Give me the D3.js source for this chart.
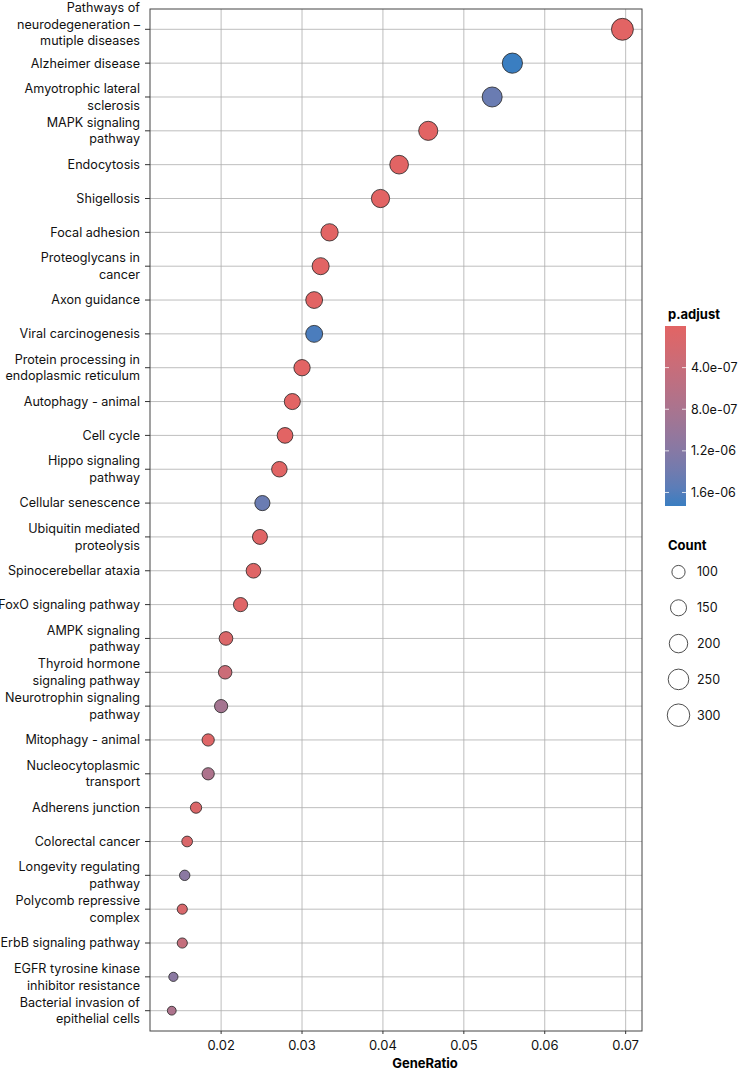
<!DOCTYPE html>
<html>
<head>
<meta charset="utf-8">
<script src="https://cdn.jsdelivr.net/npm/d3@7.9.0/dist/d3.min.js"></script>
<style>
  body { margin: 0; background: #fff; }
  svg { display: block; font-family: Inter, "Liberation Sans", sans-serif; }
</style>
</head>
<body>
<div id="chart"></div>
<script>
// KEGG pathways, top to bottom
const pathways = [
  'Pathways of\nneurodegeneration –\nmutiple diseases',
  'Alzheimer disease',
  'Amyotrophic lateral\nsclerosis',
  'MAPK signaling\npathway',
  'Endocytosis',
  'Shigellosis',
  'Focal adhesion',
  'Proteoglycans in\ncancer',
  'Axon guidance',
  'Viral carcinogenesis',
  'Protein processing in\nendoplasmic reticulum',
  'Autophagy - animal',
  'Cell cycle',
  'Hippo signaling\npathway',
  'Cellular senescence',
  'Ubiquitin mediated\nproteolysis',
  'Spinocerebellar ataxia',
  'FoxO signaling pathway',
  'AMPK signaling\npathway',
  'Thyroid hormone\nsignaling pathway',
  'Neurotrophin signaling\npathway',
  'Mitophagy - animal',
  'Nucleocytoplasmic\ntransport',
  'Adherens junction',
  'Colorectal cancer',
  'Longevity regulating\npathway',
  'Polycomb repressive\ncomplex',
  'ErbB signaling pathway',
  'EGFR tyrosine kinase\ninhibitor resistance',
  'Bacterial invasion of\nepithelial cells',
];

const geneRatio = [
  0.0696, 0.0560, 0.0535, 0.0456, 0.0420, 0.0397, 0.0334, 0.0323, 0.0315, 0.0315,
  0.0300, 0.0288, 0.0279, 0.0272, 0.0251, 0.0248, 0.0240, 0.0224, 0.0206, 0.0205,
  0.0200, 0.0184, 0.0184, 0.0169, 0.0158, 0.0155, 0.0152, 0.0152, 0.0141, 0.0139,
];

const counts = [
  284, 241, 236, 215, 205, 195, 175, 170, 165, 168,
  155, 150, 144, 140, 133, 130, 125, 116, 108, 105,
  100, 86, 86, 72, 65, 61, 58, 58, 47, 43,
];

const pAdjust = [
  3e-14, 1.73e-6, 1.45e-6, 2e-10, 5e-10, 1e-9, 8e-10, 1e-9, 2e-9, 1.65e-6,
  5e-9, 3e-9, 4e-9, 2e-8, 1.45e-6, 3e-8, 4e-8, 5e-8, 1e-7, 3.5e-7,
  8.5e-7, 6e-8, 7.5e-7, 1e-7, 1.2e-7, 1.15e-6, 1.5e-7, 4.5e-7, 1.15e-6, 7.5e-7,
];

const xTicks = [0.02, 0.03, 0.04, 0.05, 0.06, 0.07];
const pTicks = [4e-7, 8e-7, 1.2e-6, 1.6e-6];
const countBreaks = [100, 150, 200, 250, 300];

const data = pathways.map((name, i) => ({
  name, ratio: geneRatio[i], count: counts[i], p: pAdjust[i],
}));

const width = 750, height = 1072;
const panel = { left: 150, right: 642, top: 9, bottom: 1031 };

const svg = d3.select('#chart').append('svg')
  .attr('width', width).attr('height', height);

const x = d3.scaleLinear().domain([0.01121, 0.07202]).range([panel.left, panel.right]);
const y = d3.scalePoint().domain(pathways).range([panel.top, panel.bottom]).padding(0.6);
const r = d3.scaleSqrt().domain([100, 300]).range([7, 11.65]);

const [pMin, pMax] = d3.extent(pAdjust);
const color = d3.scaleLinear().domain([pMin, pMax])
  .range(['#e26464', '#3a7ec1']).interpolate(d3.interpolateLab);

// gridlines
const grid = svg.append('g').attr('stroke', '#adadad').attr('stroke-width', 0.8);
grid.selectAll('.gx').data(xTicks).join('line')
  .attr('x1', d => x(d)).attr('x2', d => x(d))
  .attr('y1', panel.top).attr('y2', panel.bottom);
grid.selectAll('.gy').data(pathways).join('line')
  .attr('x1', panel.left).attr('x2', panel.right)
  .attr('y1', d => y(d)).attr('y2', d => y(d));

// dots, largest first
svg.append('g').selectAll('circle')
  .data(d3.sort(data, d => -d.count))
  .join('circle')
  .attr('cx', d => x(d.ratio))
  .attr('cy', d => y(d.name))
  .attr('r', d => r(d.count) - 0.4)
  .attr('fill', d => color(d.p))
  .attr('stroke', '#222')
  .attr('stroke-width', 0.8);

// panel border
svg.append('rect')
  .attr('x', panel.left).attr('y', panel.top)
  .attr('width', panel.right - panel.left).attr('height', panel.bottom - panel.top)
  .attr('fill', 'none').attr('stroke', '#444').attr('stroke-width', 1);

// y axis labels
const yAxis = svg.append('g');
pathways.forEach(name => {
  const lines = name.split('\n');
  const lh = 16.5;
  const shift = lines.length > 2 ? -5 : 0;
  const y0 = y(name) - (lines.length - 1) / 2 * lh + shift;
  yAxis.append('line')
    .attr('x1', panel.left - 5).attr('x2', panel.left)
    .attr('y1', y(name)).attr('y2', y(name))
    .attr('stroke', '#333').attr('stroke-width', 1);
  const t = yAxis.append('text')
    .attr('text-anchor', 'end')
    .attr('font-size', 12.6)
    .attr('fill', '#111');
  lines.forEach((ln, j) => {
    t.append('tspan').attr('x', panel.left - 10).attr('y', y0 + j * lh)
      .attr('dy', '0.35em').text(ln);
  });
});

// x axis
const xAxis = svg.append('g');
xTicks.forEach(v => {
  xAxis.append('line')
    .attr('x1', x(v)).attr('x2', x(v))
    .attr('y1', panel.bottom).attr('y2', panel.bottom + 3)
    .attr('stroke', '#333');
  xAxis.append('text')
    .attr('x', x(v)).attr('y', panel.bottom + 19)
    .attr('text-anchor', 'middle').attr('font-size', 13).attr('fill', '#111')
    .text(d3.format('.2f')(v));
});
svg.append('text')
  .attr('x', 425).attr('y', 1068)
  .attr('text-anchor', 'middle').attr('font-size', 13).attr('font-weight', 'bold')
  .text('GeneRatio');

// colour legend
const bar = { x: 665, y: 326, w: 21, h: 180 };
svg.append('text').attr('x', 668).attr('y', 319)
  .attr('font-size', 13).attr('font-weight', 'bold').text('p.adjust');
const grad = svg.append('defs').append('linearGradient')
  .attr('id', 'pgrad').attr('x1', 0).attr('x2', 0).attr('y1', 0).attr('y2', 1);
d3.range(0, 1.0001, 0.1).forEach(t => {
  grad.append('stop').attr('offset', t)
    .attr('stop-color', color(pMin + t * (pMax - pMin)));
});
svg.append('rect')
  .attr('x', bar.x).attr('y', bar.y).attr('width', bar.w).attr('height', bar.h)
  .attr('fill', 'url(#pgrad)');
const py = d3.scaleLinear().domain([pMin, pMax]).range([bar.y, bar.y + bar.h]);
pTicks.forEach(v => {
  [[bar.x, bar.x + 4], [bar.x + bar.w - 4, bar.x + bar.w]].forEach(([a, b]) => {
    svg.append('line').attr('x1', a).attr('x2', b)
      .attr('y1', py(v)).attr('y2', py(v))
      .attr('stroke', '#fff').attr('stroke-width', 0.8);
  });
  svg.append('text').attr('x', 691).attr('y', py(v)).attr('dy', '0.35em')
    .attr('font-size', 12.5).attr('fill', '#111')
    .text(d3.format('.1e')(v).replace(/e([-+])(\d)$/, 'e$10$2'));
});

// size legend
svg.append('text').attr('x', 668).attr('y', 550)
  .attr('font-size', 13).attr('font-weight', 'bold').text('Count');
countBreaks.forEach((c, i) => {
  const cy = 572 + i * 35.8;
  svg.append('circle').attr('cx', 678.5).attr('cy', cy).attr('r', r(c) - 0.4)
    .attr('fill', 'none').attr('stroke', '#222').attr('stroke-width', 0.8);
  svg.append('text').attr('x', 697).attr('y', cy).attr('dy', '0.35em')
    .attr('font-size', 12.5).attr('fill', '#111').text(c);
});
</script>
</body>
</html>
